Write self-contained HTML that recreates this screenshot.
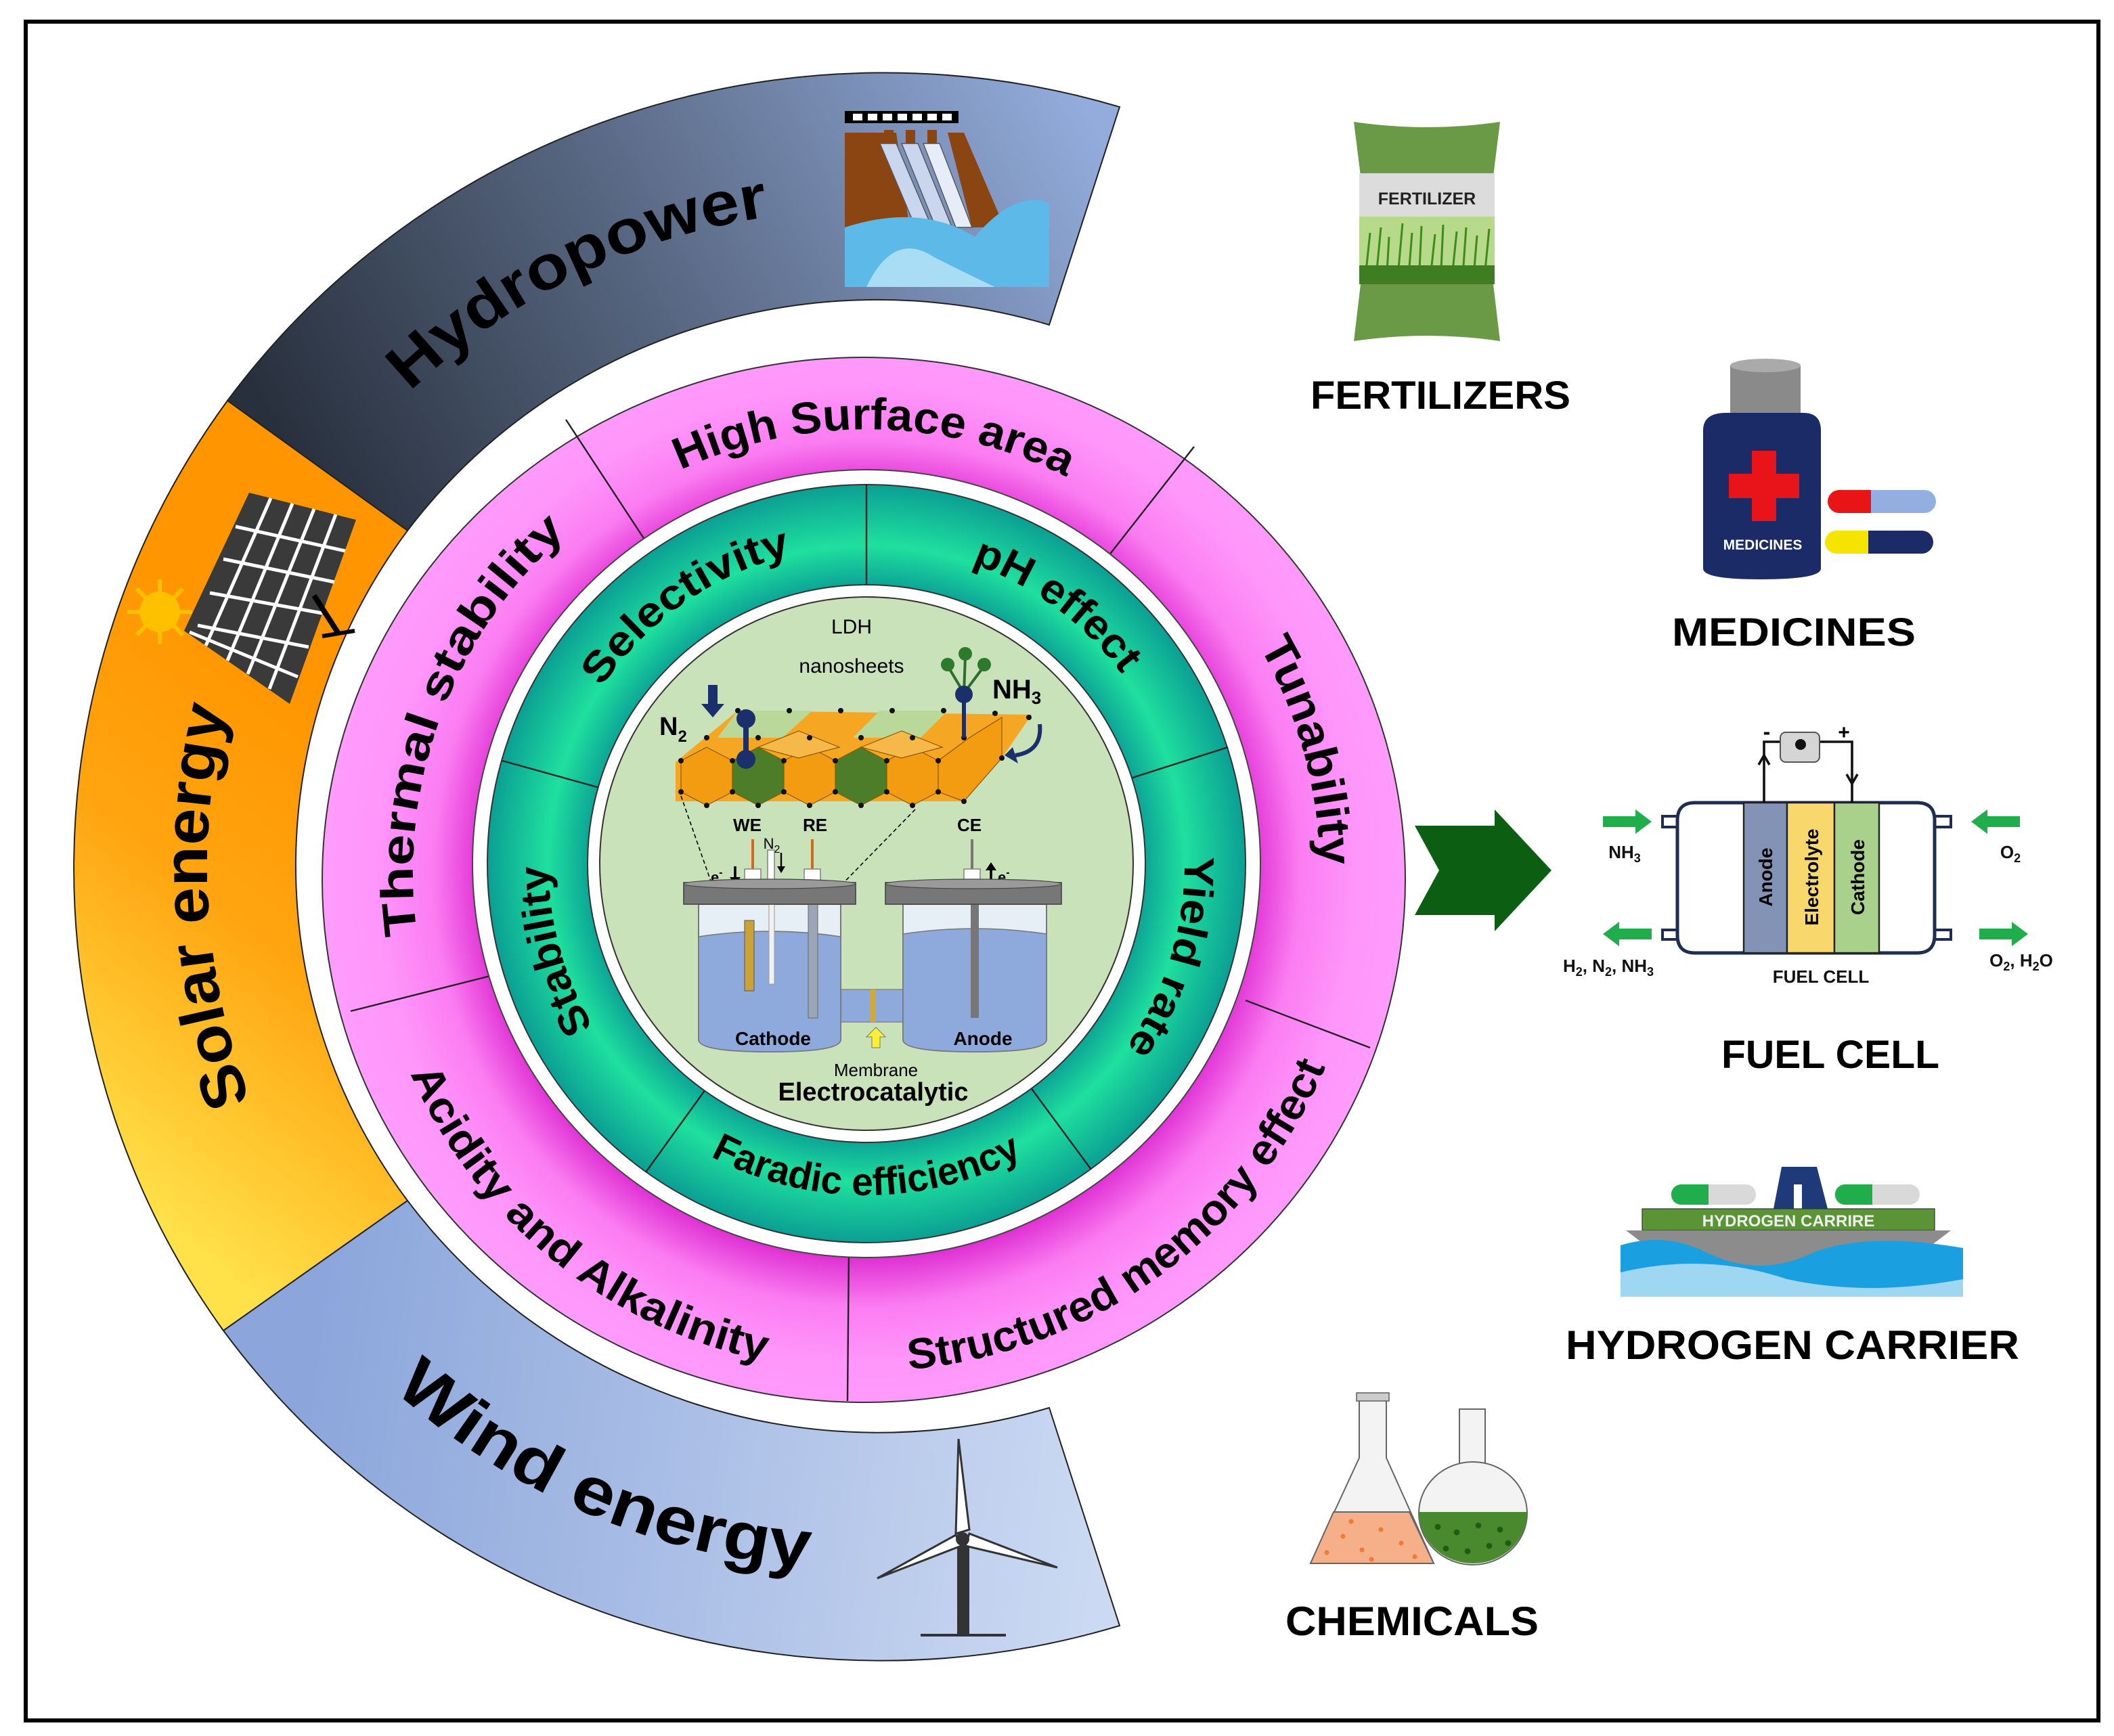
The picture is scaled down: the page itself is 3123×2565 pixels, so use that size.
<!DOCTYPE html>
<html><head><meta charset="utf-8"><style>
html,body{margin:0;padding:0;background:#fff}
svg{display:block}
text{font-family:"Liberation Sans",sans-serif;font-weight:bold}
</style></head><body>
<svg width="3123" height="2565" viewBox="0 0 1561.5 1282.5" xmlns="http://www.w3.org/2000/svg">
<defs>
<linearGradient id="gH" gradientUnits="userSpaceOnUse" x1="820" y1="110" x2="260" y2="420"><stop offset="0" stop-color="#93acdc"/><stop offset="0.55" stop-color="#56657f"/><stop offset="1" stop-color="#28303d"/></linearGradient>
<linearGradient id="gS" gradientUnits="userSpaceOnUse" x1="60" y1="860" x2="300" y2="560"><stop offset="0" stop-color="#ffe24a"/><stop offset="0.55" stop-color="#ffa510"/><stop offset="1" stop-color="#ff9500"/></linearGradient>
<linearGradient id="gW" gradientUnits="userSpaceOnUse" x1="820" y1="1080" x2="230" y2="1000"><stop offset="0" stop-color="#cbd9f2"/><stop offset="1" stop-color="#8ca6db"/></linearGradient>
<radialGradient id="gP" gradientUnits="userSpaceOnUse" cx="640" cy="645" r="400"><stop offset="0.71" stop-color="#df2fd3"/><stop offset="0.8" stop-color="#fb7cf1"/><stop offset="0.9" stop-color="#ff95fb"/><stop offset="1" stop-color="#ff9cfc"/></radialGradient>
<radialGradient id="gT" gradientUnits="userSpaceOnUse" cx="640" cy="638" r="280"><stop offset="0.72" stop-color="#0a9c95"/><stop offset="0.84" stop-color="#1fe09e"/><stop offset="1" stop-color="#0b9f94"/></radialGradient>
<path id="pcw" d="M305,645 A335,335 0 0 1 975,645"/>
<path id="pcwT" d="M312,645 A328,328 0 0 1 968,645"/>
<path id="pccw" d="M272,645 A368,368 0 0 0 1008,645"/>
<path id="tcw" d="M405,638 A235,235 0 0 1 875,638"/>
<path id="tccw" d="M395,638 A245,245 0 0 0 885,638"/>
<path id="ocw" d="M153,640 A485,485 0 0 1 1123,640"/>
<path id="occw" d="M118,640 A520,520 0 0 0 1158,640"/>
</defs>

<rect x="19" y="16" width="1531" height="1255" fill="#fff" stroke="#000" stroke-width="3"/>

<path d="M827,79 A601,591 0 0 0 168,296 L301,392 A432,421 0 0 1 775,240 Z" fill="url(#gH)" stroke="#222" stroke-width="1"/>
<path d="M168,296 A601,591 0 0 0 165,983 L301,887 A432,421 0 0 1 301,392 Z" fill="url(#gS)" stroke="#222" stroke-width="1"/>
<path d="M165,983 A601,591 0 0 0 827,1201 L775,1040 A432,421 0 0 1 301,887 Z" fill="url(#gW)" stroke="#222" stroke-width="1"/>

<rect x="624" y="82" width="84" height="9" fill="#000"/>
<g fill="#fff"><rect x="630" y="84" width="7" height="5"/><rect x="641" y="84" width="7" height="5"/><rect x="652" y="84" width="7" height="5"/><rect x="663" y="84" width="7" height="5"/><rect x="674" y="84" width="7" height="5"/><rect x="685" y="84" width="7" height="5"/><rect x="696" y="84" width="7" height="5"/></g>
<polygon points="624,98 662,98 672,170 624,170" fill="#8b4513"/>
<polygon points="700,98 712,98 742,168 718,168" fill="#8b4513"/>
<rect x="653" y="96" width="7" height="10" fill="#8b4513"/><rect x="669" y="96" width="7" height="10" fill="#8b4513"/><rect x="685" y="96" width="7" height="10" fill="#8b4513"/>
<polygon points="650,106 662,106 690,172 678,172" fill="#c9d6ee" stroke="#555" stroke-width="0.7"/>
<polygon points="666,106 678,106 704,170 692,170" fill="#c9d6ee" stroke="#555" stroke-width="0.7"/>
<polygon points="682,106 694,106 718,168 706,168" fill="#e6edf9" stroke="#555" stroke-width="0.7"/>
<path d="M624,168 Q680,150 720,175 Q750,140 775,150 L775,212 L624,212 Z" fill="#5cb9e8"/>
<path d="M640,212 Q660,170 690,190 Q720,205 735,212 Z" fill="#a9dcf5"/>

<polygon points="184,364 263,384 214,520 136,466" fill="#3a3a3a"/>
<g stroke="#fff" stroke-width="2.5">
<line x1="200" y1="368" x2="152" y2="477"/><line x1="216" y1="372" x2="168" y2="488"/><line x1="232" y1="376" x2="183" y2="498"/><line x1="248" y1="380" x2="199" y2="509"/>
<line x1="174" y1="389" x2="255" y2="407"/><line x1="165" y1="413" x2="247" y2="430"/><line x1="155" y1="438" x2="238" y2="453"/><line x1="146" y1="462" x2="228" y2="478"/><line x1="140" y1="467" x2="220" y2="500"/>
</g>
<line x1="232" y1="440" x2="250" y2="468" stroke="#000" stroke-width="4"/><line x1="238" y1="470" x2="262" y2="466" stroke="#000" stroke-width="3"/>
<circle cx="118" cy="452" r="15" fill="#ffc000"/>
<g stroke="#ffc000" stroke-width="3"><line x1="118" y1="428" x2="118" y2="476"/><line x1="94" y1="452" x2="142" y2="452"/><line x1="101" y1="435" x2="135" y2="469"/><line x1="101" y1="469" x2="135" y2="435"/></g>

<rect x="707" y="1135" width="9" height="73" fill="#333"/>
<line x1="680" y1="1208" x2="743" y2="1208" stroke="#333" stroke-width="2"/>
<polygon points="708,1063 716,1130 706,1133" fill="#fff" stroke="#333" stroke-width="1.5"/>
<polygon points="648,1166 706,1134 710,1142" fill="#fff" stroke="#333" stroke-width="1.5"/>
<polygon points="781,1158 716,1133 713,1142" fill="#fff" stroke="#333" stroke-width="1.5"/>
<circle cx="711" cy="1137" r="5" fill="#333"/>

<g transform="rotate(-26 638 640)"><text font-size="46" textLength="300" lengthAdjust="spacingAndGlyphs"><textPath href="#ocw" startOffset="50%" text-anchor="middle">Hydropower</textPath></text></g>
<g transform="rotate(266.5 638 640)"><text font-size="46" textLength="295" lengthAdjust="spacingAndGlyphs"><textPath href="#ocw" startOffset="50%" text-anchor="middle">Solar energy</textPath></text></g>
<g transform="rotate(23.2 638 640)"><text font-size="50" textLength="340" lengthAdjust="spacingAndGlyphs"><textPath href="#occw" startOffset="50%" text-anchor="middle">Wind energy</textPath></text></g>

<ellipse cx="638" cy="650" rx="400" ry="386" fill="url(#gP)" stroke="#333" stroke-width="1"/>
<g stroke="#222" stroke-width="1.2">
<line x1="418" y1="310" x2="479" y2="403"/><line x1="882" y1="330" x2="817" y2="413"/><line x1="1012" y1="774" x2="920" y2="739"/><line x1="626" y1="1035" x2="627" y2="923"/><line x1="259" y1="747" x2="366" y2="720"/>
</g>
<circle cx="640" cy="638" r="291" fill="#fff" stroke="#444" stroke-width="1"/>
<circle cx="640" cy="638" r="280" fill="url(#gT)" stroke="#333" stroke-width="1"/>
<g stroke="#222" stroke-width="1.2">
<line x1="640" y1="433" x2="640" y2="358"/><line x1="835" y1="575" x2="907" y2="552"/><line x1="761" y1="803" x2="806" y2="864"/><line x1="521" y1="805" x2="477" y2="866"/><line x1="443" y1="582" x2="371" y2="562"/>
</g>
<circle cx="640" cy="638" r="206" fill="#fff" stroke="#333" stroke-width="1"/>
<circle cx="640" cy="638" r="197" fill="#c9e2b9" stroke="#333" stroke-width="1"/>

<g transform="rotate(1 640 645)"><text font-size="33" textLength="295" lengthAdjust="spacingAndGlyphs"><textPath href="#pcwT" startOffset="50%" text-anchor="middle">High Surface area</textPath></text></g>
<g transform="rotate(-69.6 640 645)"><text font-size="34" textLength="330" lengthAdjust="spacingAndGlyphs"><textPath href="#pcw" startOffset="50%" text-anchor="middle">Thermal stability</textPath></text></g>
<g transform="rotate(74.5 640 645)"><text font-size="34" textLength="170" lengthAdjust="spacingAndGlyphs"><textPath href="#pcw" startOffset="50%" text-anchor="middle">Tunability</textPath></text></g>
<g transform="rotate(-36 640 645)"><text font-size="32" textLength="400" lengthAdjust="spacingAndGlyphs"><textPath href="#pccw" startOffset="50%" text-anchor="middle">Structured memory effect</textPath></text></g>
<g transform="rotate(39 640 645)"><text font-size="32" textLength="350" lengthAdjust="spacingAndGlyphs"><textPath href="#pccw" startOffset="50%" text-anchor="middle">Acidity and Alkalinity</textPath></text></g>

<g transform="rotate(-35 640 638)"><text font-size="31" textLength="175" lengthAdjust="spacingAndGlyphs"><textPath href="#tcw" startOffset="50%" text-anchor="middle">Selectivity</textPath></text></g>
<g transform="rotate(36.4 640 638)"><text font-size="31" textLength="140" lengthAdjust="spacingAndGlyphs"><textPath href="#tcw" startOffset="50%" text-anchor="middle">pH effect</textPath></text></g>
<g transform="rotate(107 640 638)"><text font-size="31" textLength="150" lengthAdjust="spacingAndGlyphs"><textPath href="#tcw" startOffset="50%" text-anchor="middle">Yield rate</textPath></text></g>
<g transform="rotate(254.4 640 638)"><text font-size="31" textLength="125" lengthAdjust="spacingAndGlyphs"><textPath href="#tcw" startOffset="50%" text-anchor="middle">Stability</textPath></text></g>
<g transform="rotate(0 640 638)"><text font-size="29" textLength="240" lengthAdjust="spacingAndGlyphs"><textPath href="#tccw" startOffset="50%" text-anchor="middle">Faradic efficiency</textPath></text></g>

<text x="629" y="468" font-size="15" text-anchor="middle" style="font-weight:normal">LDH</text>
<text x="629" y="497" font-size="15" text-anchor="middle" style="font-weight:normal">nanosheets</text>
<polygon points="499,563 545,525 762,528 740,560 712,592 499,592" fill="#f5a623"/>
<polygon points="545,525 600,525 578,545 530,545" fill="#b9d89a"/>
<polygon points="650,525 700,525 680,545 630,545" fill="#b9d89a"/>
<g stroke="#8a5a00" stroke-width="0.6">
<polygon points="503,562 522,552 541,562 541,585 522,595 503,585" fill="#f39c12"/>
<polygon points="541,562 560,552 579,562 579,585 560,595 541,585" fill="#4e7d2a"/>
<polygon points="579,562 598,552 617,562 617,585 598,595 579,585" fill="#f39c12"/>
<polygon points="617,562 636,552 655,562 655,585 636,595 617,585" fill="#4e7d2a"/>
<polygon points="655,562 674,552 693,562 693,585 674,595 655,585" fill="#f39c12"/>
<polygon points="693,562 716,545 740,530 740,560 712,592 693,585" fill="#f39c12"/>
<polygon points="560,552 590,540 620,552 590,560" fill="#f7b84a"/>
<polygon points="636,552 666,540 696,552 666,560" fill="#f7b84a"/>
</g>
<g fill="#111">
<circle cx="503" cy="562" r="2"/><circle cx="541" cy="562" r="2"/><circle cx="579" cy="562" r="2"/><circle cx="617" cy="562" r="2"/><circle cx="655" cy="562" r="2"/><circle cx="693" cy="562" r="2"/>
<circle cx="503" cy="585" r="2"/><circle cx="541" cy="585" r="2"/><circle cx="579" cy="585" r="2"/><circle cx="617" cy="585" r="2"/><circle cx="655" cy="585" r="2"/><circle cx="693" cy="585" r="2"/>
<circle cx="522" cy="595" r="2"/><circle cx="560" cy="595" r="2"/><circle cx="598" cy="595" r="2"/><circle cx="636" cy="595" r="2"/><circle cx="674" cy="595" r="2"/><circle cx="712" cy="592" r="2"/>
<circle cx="545" cy="525" r="2"/><circle cx="583" cy="525" r="2"/><circle cx="621" cy="525" r="2"/><circle cx="659" cy="525" r="2"/><circle cx="697" cy="525" r="2"/><circle cx="735" cy="527" r="2"/>
<circle cx="522" cy="545" r="2"/><circle cx="560" cy="545" r="2"/><circle cx="598" cy="545" r="2"/><circle cx="636" cy="545" r="2"/><circle cx="674" cy="545" r="2"/><circle cx="712" cy="545" r="2"/><circle cx="740" cy="560" r="2"/><circle cx="760" cy="530" r="2"/>
</g>
<line x1="503" y1="588" x2="553" y2="731" stroke="#000" stroke-width="0.8" stroke-dasharray="3,2"/>
<line x1="676" y1="598" x2="549" y2="728" stroke="#000" stroke-width="0.8" stroke-dasharray="3,2"/>
<line x1="551" y1="533" x2="551" y2="560" stroke="#1a2f6b" stroke-width="4"/>
<circle cx="551" cy="531" r="7" fill="#1a2f6b"/><circle cx="551" cy="561" r="7" fill="#1a2f6b"/>
<polygon points="523,506 530,506 530,520 535,520 526.5,530 518,520 523,520" fill="#1a2f6b"/>
<text x="487" y="543" font-size="19">N<tspan font-size="12" dy="5">2</tspan></text>
<line x1="712" y1="512" x2="712" y2="545" stroke="#1a2f6b" stroke-width="3"/>
<g stroke="#2c6e2c" stroke-width="2"><line x1="712" y1="512" x2="700" y2="492"/><line x1="712" y1="512" x2="713" y2="485"/><line x1="712" y1="512" x2="727" y2="492"/></g>
<circle cx="700" cy="491" r="5" fill="#2c7a2c"/><circle cx="713" cy="483" r="5" fill="#2c7a2c"/><circle cx="727" cy="491" r="5" fill="#2c7a2c"/>
<circle cx="712" cy="513" r="6.5" fill="#1a2f6b"/>
<text x="733" y="516" font-size="20">NH<tspan font-size="13" dy="4">3</tspan></text>
<path d="M768,535 Q770,555 750,558" fill="none" stroke="#1a2f6b" stroke-width="3"/>
<polygon points="748,552 752,564 742,558" fill="#1a2f6b"/>
<text x="552" y="614" font-size="13" text-anchor="middle">WE</text>
<text x="602" y="614" font-size="13" text-anchor="middle">RE</text>
<text x="716" y="614" font-size="13" text-anchor="middle">CE</text>
<text x="570" y="627" font-size="11" text-anchor="middle" style="font-weight:normal">N<tspan font-size="8" dy="3">2</tspan></text>
<text x="525" y="652" font-size="11">e<tspan font-size="8" dy="-5">-</tspan></text>
<line x1="543" y1="640" x2="543" y2="650" stroke="#000" stroke-width="1.8"/><polygon points="539,648 547,648 543,654"/>
<line x1="577" y1="630" x2="577" y2="642" stroke="#000" stroke-width="1.2"/><polygon points="574,640 580,640 577,645"/>
<line x1="556" y1="620" x2="556" y2="642" stroke="#d2691e" stroke-width="2"/>
<rect x="550" y="642" width="12" height="12" fill="#fff" stroke="#888" stroke-width="0.8"/>
<rect x="567" y="628" width="5" height="27" fill="#fff" stroke="#888" stroke-width="0.8"/>
<line x1="600" y1="620" x2="600" y2="642" stroke="#d2691e" stroke-width="2"/>
<rect x="594" y="642" width="12" height="12" fill="#fff" stroke="#888" stroke-width="0.8"/>
<line x1="718" y1="620" x2="718" y2="642" stroke="#777" stroke-width="2"/>
<rect x="712" y="642" width="12" height="12" fill="#fff" stroke="#888" stroke-width="0.8"/>
<line x1="732" y1="640" x2="732" y2="652" stroke="#000" stroke-width="1.8"/><polygon points="728,643 736,643 732,637"/>
<text x="737" y="652" font-size="11">e<tspan font-size="8" dy="-5">-</tspan></text>
<rect x="621" y="731" width="48" height="24" fill="#8eaadc" stroke="#888" stroke-width="0.8"/>
<rect x="643" y="731" width="4" height="24" fill="#d4a837"/>
<path d="M516,668 L516,768 Q516,777 569,777 Q621,777 621,768 L621,668 Z" fill="#e6eef6" stroke="#777" stroke-width="1"/>
<path d="M516,692 Q569,684 621,692 L621,768 Q621,777 569,777 Q516,777 516,768 Z" fill="#8eaadc" stroke="#777" stroke-width="0.8"/>
<path d="M667,668 L667,768 Q667,777 720,777 Q773,777 773,768 L773,668 Z" fill="#e6eef6" stroke="#777" stroke-width="1"/>
<path d="M667,690 Q720,682 773,690 L773,768 Q773,777 720,777 Q667,777 667,768 Z" fill="#8eaadc" stroke="#777" stroke-width="0.8"/>
<rect x="550" y="680" width="7" height="52" fill="#c9a23a" stroke="#555" stroke-width="0.5"/>
<rect x="568" y="655" width="4" height="72" fill="#f2f2f2" stroke="#999" stroke-width="0.5"/>
<rect x="597" y="668" width="7" height="84" fill="#9aa6b6" stroke="#666" stroke-width="0.5"/>
<rect x="717" y="668" width="6" height="84" fill="#777"/>
<rect x="505" y="652" width="127" height="16" fill="#777" stroke="#444" stroke-width="0.8"/>
<ellipse cx="568.5" cy="653" rx="63.5" ry="3.5" fill="#9a9a9a" stroke="#444" stroke-width="0.6"/>
<rect x="654" y="652" width="130" height="16" fill="#777" stroke="#444" stroke-width="0.8"/>
<ellipse cx="719" cy="653" rx="65" ry="3.5" fill="#9a9a9a" stroke="#444" stroke-width="0.6"/>
<text x="571" y="772" font-size="14" text-anchor="middle">Cathode</text>
<text x="726" y="772" font-size="14" text-anchor="middle">Anode</text>
<polygon points="644,760 650,760 650,768 654,768 647,775 640,768 644,768" transform="rotate(180 647 767)" fill="#ffef33" stroke="#777" stroke-width="0.5"/>
<text x="647" y="795" font-size="13" text-anchor="middle" style="font-weight:normal">Membrane</text>
<text x="645" y="813" font-size="19" text-anchor="middle">Electrocatalytic</text>

<polygon points="1045,610 1104,610 1104,598 1146,643 1104,688 1104,676 1045,676 1063,643" fill="#0b5e12"/>

<path d="M1000,90 Q1054,98 1108,90 L1103,130 L1103,210 L1108,252 Q1054,244 1000,252 L1005,210 L1005,130 Z" fill="#6a9a45"/>
<rect x="1004" y="128" width="100" height="34" fill="#dcdcdc"/>
<rect x="1004" y="160" width="100" height="50" fill="#b7d98a"/>
<g stroke="#3f8a1c" stroke-width="1.5">
<line x1="1008" y1="210" x2="1012" y2="172"/><line x1="1016" y1="210" x2="1020" y2="168"/><line x1="1024" y1="210" x2="1026" y2="175"/><line x1="1032" y1="210" x2="1036" y2="165"/><line x1="1040" y1="210" x2="1043" y2="172"/><line x1="1048" y1="210" x2="1050" y2="167"/><line x1="1056" y1="210" x2="1060" y2="173"/><line x1="1064" y1="210" x2="1066" y2="166"/><line x1="1072" y1="210" x2="1076" y2="171"/><line x1="1080" y1="210" x2="1083" y2="168"/><line x1="1088" y1="210" x2="1091" y2="174"/><line x1="1096" y1="210" x2="1100" y2="169"/>
</g>
<rect x="1004" y="196" width="100" height="14" fill="#3f7d22"/>
<text x="1054" y="151" font-size="12.5" text-anchor="middle" fill="#222">FERTILIZER</text>
<text x="1064" y="302" font-size="29" text-anchor="middle" textLength="192" lengthAdjust="spacingAndGlyphs">FERTILIZERS</text>

<rect x="1278" y="270" width="52" height="38" fill="#8a8a8a"/>
<ellipse cx="1304" cy="270" rx="26" ry="5" fill="#aaa"/>
<path d="M1258,318 Q1258,305 1275,305 L1332,305 Q1345,305 1345,318 L1345,420 Q1345,428 1300,428 Q1258,428 1258,420 Z" fill="#1a2b68"/>
<rect x="1294" y="333" width="18" height="52" fill="#e8141a"/>
<rect x="1277" y="350" width="52" height="18" fill="#e8141a"/>
<text x="1302" y="406" font-size="10.5" text-anchor="middle" fill="#fff">MEDICINES</text>
<rect x="1350" y="362" width="40" height="17" rx="8.5" fill="#e81416"/><rect x="1382" y="362" width="48" height="17" rx="8.5" fill="#93aee0"/><rect x="1382" y="362" width="10" height="17" fill="#93aee0"/>
<rect x="1348" y="392" width="40" height="17" rx="8.5" fill="#f5e400"/><rect x="1380" y="392" width="48" height="17" rx="8.5" fill="#1a2b68"/><rect x="1380" y="392" width="10" height="17" fill="#1a2b68"/>
<text x="1325" y="477" font-size="29" text-anchor="middle" textLength="180" lengthAdjust="spacingAndGlyphs">MEDICINES</text>

<path d="M1252,593 L1416,593 Q1429,593 1429,606 L1429,691 Q1429,704 1416,704 L1252,704 Q1239,704 1239,691 L1239,606 Q1239,593 1252,593 Z" fill="#fff" stroke="#1f2d55" stroke-width="2.5"/>
<path d="M1239,603 L1228,603 L1228,611 L1239,611 M1239,687 L1228,687 L1228,694 L1239,694 M1429,603 L1441,603 L1441,611 L1429,611 M1429,687 L1441,687 L1441,694 L1429,694" fill="none" stroke="#1f2d55" stroke-width="2"/>
<rect x="1288" y="593" width="32" height="111" fill="#8293b6" stroke="#222" stroke-width="1.2"/>
<rect x="1320" y="593" width="35" height="111" fill="#f8d76d" stroke="#222" stroke-width="1.2"/>
<rect x="1355" y="593" width="33" height="111" fill="#a9d18c" stroke="#222" stroke-width="1.2"/>
<text transform="translate(1309,648) rotate(-90)" font-size="14" text-anchor="middle">Anode</text>
<text transform="translate(1343,648) rotate(-90)" font-size="14" text-anchor="middle">Electrolyte</text>
<text transform="translate(1377,648) rotate(-90)" font-size="14" text-anchor="middle">Cathode</text>
<path d="M1303,593 L1303,548 L1315,548 M1344,548 L1368,548 L1368,593" fill="none" stroke="#111" stroke-width="1.8"/>
<polyline points="1299,565 1303,558 1307,565" fill="none" stroke="#111" stroke-width="1.8"/>
<polyline points="1364,572 1368,579 1372,572" fill="none" stroke="#111" stroke-width="1.8"/>
<rect x="1315" y="541" width="29" height="22" rx="4" fill="#d5d5d5" stroke="#555" stroke-width="1"/>
<circle cx="1330" cy="550" r="4" fill="#111"/>
<text x="1305" y="546" font-size="16" text-anchor="middle">-</text>
<text x="1362" y="546" font-size="15" text-anchor="middle">+</text>
<g fill="#1fae4b">
<polygon points="1184,603 1208,603 1208,598 1220,607 1208,616 1208,611 1184,611"/>
<polygon points="1492,603 1468,603 1468,598 1456,607 1468,616 1468,611 1492,611"/>
<polygon points="1220,686 1196,686 1196,681 1184,690 1196,699 1196,694 1220,694"/>
<polygon points="1462,686 1486,686 1486,681 1498,690 1486,699 1486,694 1462,694"/>
</g>
<g font-size="13" fill="#111">
<text x="1200" y="634" text-anchor="middle">NH<tspan font-size="9" dy="3">3</tspan></text>
<text x="1485" y="634" text-anchor="middle">O<tspan font-size="9" dy="3">2</tspan></text>
<text x="1188" y="718" text-anchor="middle">H<tspan font-size="9" dy="3">2</tspan><tspan dy="-3">, N</tspan><tspan font-size="9" dy="3">2</tspan><tspan dy="-3">, NH</tspan><tspan font-size="9" dy="3">3</tspan></text>
<text x="1493" y="714" text-anchor="middle">O<tspan font-size="9" dy="3">2</tspan><tspan dy="-3">, H</tspan><tspan font-size="9" dy="3">2</tspan><tspan dy="-3">O</tspan></text>
<text x="1345" y="726" text-anchor="middle">FUEL CELL</text>
</g>
<text x="1352" y="789" font-size="29" text-anchor="middle" textLength="161" lengthAdjust="spacingAndGlyphs">FUEL CELL</text>

<polygon points="1316,862 1342,862 1350,893 1310,893" fill="#1f3a78"/>
<rect x="1325" y="875" width="6" height="18" fill="#fff"/>
<rect x="1234" y="875" width="63" height="15" rx="7.5" fill="#d9d9d9"/><path d="M1242,875 L1262,875 L1262,890 L1242,890 A7.5,7.5 0 0 1 1242,875 Z" fill="#1fae4b"/>
<rect x="1355" y="875" width="63" height="15" rx="7.5" fill="#d9d9d9"/><path d="M1363,875 L1383,875 L1383,890 L1363,890 A7.5,7.5 0 0 1 1363,875 Z" fill="#1fae4b"/>
<rect x="1213" y="893" width="216" height="16" fill="#5b9436" stroke="#333" stroke-width="0.6"/>
<text x="1321" y="906" font-size="12" text-anchor="middle" fill="#eee">HYDROGEN CARRIRE</text>
<polygon points="1201,909 1441,909 1420,925 1301,937 1222,925" fill="#8c8c8c"/>
<path d="M1197,920 Q1230,910 1260,925 Q1300,945 1340,925 Q1380,910 1450,922 L1450,955 L1197,955 Z" fill="#1a9fe0"/>
<path d="M1197,940 Q1260,925 1320,945 Q1380,958 1450,945 L1450,958 L1197,958 Z" fill="#9fd6f2"/>
<text x="1324" y="1004" font-size="30" text-anchor="middle" textLength="335" lengthAdjust="spacingAndGlyphs">HYDROGEN CARRIER</text>

<path d="M1004,1034 L1004,1077 L968,1155 L1059,1155 L1024,1077 L1024,1034 Z" fill="#f3f3f3" stroke="#666" stroke-width="1"/>
<path d="M985,1117 L1041,1117 L1059,1155 L968,1155 Z" fill="#f5b08a" stroke="#666" stroke-width="1"/>
<rect x="1002" y="1029" width="24" height="6" fill="#ccc" stroke="#666" stroke-width="0.8"/>
<g fill="#f07a3a"><circle cx="980" cy="1147" r="1.8"/><circle cx="992" cy="1135" r="1.8"/><circle cx="1006" cy="1145" r="1.8"/><circle cx="1020" cy="1130" r="1.8"/><circle cx="1035" cy="1140" r="1.8"/><circle cx="1045" cy="1150" r="1.8"/><circle cx="1013" cy="1152" r="1.8"/><circle cx="998" cy="1124" r="1.8"/></g>
<rect x="1078" y="1041" width="19" height="42" fill="#f3f3f3" stroke="#666" stroke-width="1"/>
<ellipse cx="1088" cy="1118" rx="40" ry="38" fill="#f3f3f3" stroke="#666" stroke-width="1"/>
<path d="M1048,1117 L1128,1117 A40,38 0 0 1 1048,1117 Z" fill="#4a8a2e"/>
<g fill="#1d5e12"><circle cx="1062" cy="1128" r="2.2"/><circle cx="1076" cy="1132" r="2.2"/><circle cx="1092" cy="1127" r="2.2"/><circle cx="1108" cy="1130" r="2.2"/><circle cx="1068" cy="1144" r="2.2"/><circle cx="1084" cy="1146" r="2.2"/><circle cx="1100" cy="1142" r="2.2"/><circle cx="1114" cy="1140" r="2.2"/></g>
<text x="1043" y="1208" font-size="30" text-anchor="middle" textLength="187" lengthAdjust="spacingAndGlyphs">CHEMICALS</text>
</svg>
</body></html>
